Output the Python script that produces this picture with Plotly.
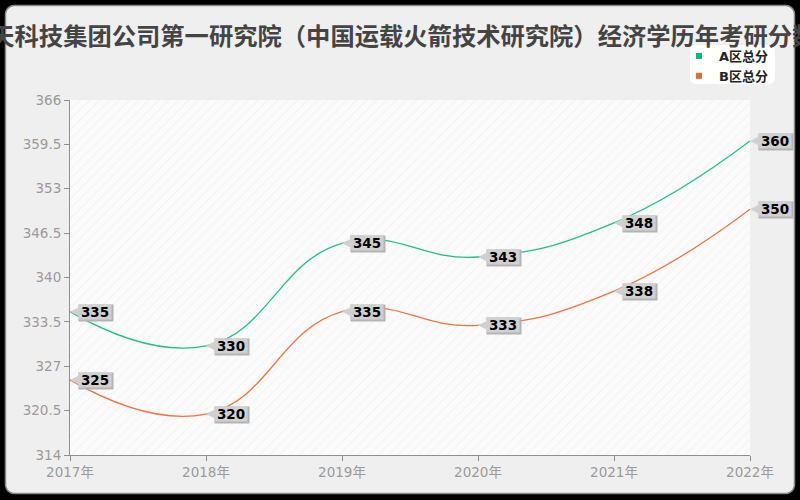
import math
import plotly.graph_objects as go

# ---- data ----
years = [2017, 2018, 2019, 2020, 2021, 2022]
year_labels = ["2017年", "2018年", "2019年", "2020年", "2021年", "2022年"]
series_a = [335, 330, 345, 343, 348, 360]
series_b = [325, 320, 335, 333, 338, 350]
name_a = "A区总分"
name_b = "B区总分"
y_ticks = [314, 320.5, 327, 333.5, 340, 346.5, 353, 359.5, 366]
title_text = "中国航天科技集团公司第一研究院（中国运载火箭技术研究院）经济学历年考研分数线"

# ---- geometry / styles ----
W, H = 800, 500
ML, MR, MT, MB = 70, 50, 100, 45
PW, PH = W - ML - MR, H - MT - MB
FONT = "DejaVu Sans, Noto Sans CJK SC, sans-serif"
COL_A = "#22bd8b"
COL_B = "#eb7446"
LEG_A = "#12b27e"
LEG_B = "#e6693a"
LABEL_BG = "#d0d0d0"
FRAME_INSET = 5.5


def px(x):
    return (x - ML) / PW


def py(y):
    return (H - MB - y) / PH


def rounded_pts(x0, y0, x1, y1, r, n=6):
    corners = [(x1 - r, y0 + r, -90), (x1 - r, y1 - r, 0), (x0 + r, y1 - r, 90), (x0 + r, y0 + r, 180)]
    pts = []
    for cx, cy, a0 in corners:
        for k in range(n + 1):
            a = math.radians(a0 + 90 * k / n)
            pts.append((cx + r * math.cos(a), cy + r * math.sin(a)))
    return pts


def path_of(pts):
    return "M" + " L".join(f"{px(x):.6f},{py(y):.6f}" for x, y in pts) + " Z"


fig = go.Figure()

fig.add_trace(go.Scatter(
    x=[years[0], years[-1], years[-1], years[0], years[0]],
    y=[y_ticks[0], y_ticks[0], y_ticks[-1], y_ticks[-1], y_ticks[0]],
    mode="none", fill="toself", fillcolor="#fbfbfb",
    fillpattern=dict(shape="/", fgcolor="#e8e8e8", bgcolor="#fbfbfb", size=7, solidity=0.15),
    hoverinfo="skip", showlegend=False,
))

for vals, col in [(series_a, COL_A), (series_b, COL_B)]:
    fig.add_trace(go.Scatter(
        x=years, y=vals, mode="lines",
        line=dict(color=col, width=1.3, shape="spline", smoothing=1.3),
        showlegend=False, hoverinfo="skip",
    ))

for nm, col in [(name_a, LEG_A), (name_b, LEG_B)]:
    fig.add_trace(go.Scatter(
        x=[None], y=[None], mode="markers", name=nm,
        marker=dict(symbol="square", size=6, color=col),
    ))

shapes = []
shapes.append(dict(type="path", xref="paper", yref="paper",
                   path=path_of(rounded_pts(690, 45, 775, 84, 6)),
                   fillcolor="#ffffff", line=dict(width=0), layer="below"))
outer = [(-2, -2), (W + 2, -2), (W + 2, H + 2), (-2, H + 2)]
frame_path = path_of(outer) + " " + path_of(
    rounded_pts(FRAME_INSET, FRAME_INSET, W - FRAME_INSET, H - 6.5, 9))
shapes.append(dict(type="path", xref="paper", yref="paper", path=frame_path,
                   fillcolor="#000000", fillrule="evenodd",
                   line=dict(color="#8a8a8a", width=1.5), layer="above"))

annotations = []
for vals in (series_a, series_b):
    for x, v in zip(years, vals):
        annotations.append(dict(x=x, y=v, xref="x", yref="y", text="",
                                showarrow=False, xshift=25.5, yshift=-1,
                                width=32, height=14, bgcolor="#b4b4b4"))
        annotations.append(dict(x=x, y=v, xref="x", yref="y", text=str(v),
                                showarrow=True, ax=24.5, ay=0, axref="pixel", ayref="pixel",
                                arrowhead=2, arrowsize=2.3, arrowwidth=1,
                                arrowcolor=LABEL_BG, standoff=0, startstandoff=0,
                                width=32, height=14, bgcolor=LABEL_BG, borderpad=0,
                                font=dict(family=FONT, size=13.5, color="#000000",
                                          weight="bold")))

fig.update_layout(
    width=W, height=H,
    margin=dict(l=ML, r=MR, t=MT, b=MB),
    paper_bgcolor="#efefef",
    plot_bgcolor="rgba(0,0,0,0)",
    font=dict(family=FONT),
    title=dict(text=title_text, x=379 / W, xref="container", xanchor="center",
               y=1 - 36 / H, yref="container", yanchor="middle",
               font=dict(family="Noto Sans CJK SC, DejaVu Sans", size=24.3, color="#444444",
                         weight="bold")),
    xaxis=dict(range=[years[0], years[-1]], tickvals=years, ticktext=year_labels,
               showgrid=True, gridcolor="#dedede", griddash="dash", gridwidth=1,
               showline=True, linecolor="#8f8f8f", linewidth=1,
               ticks="outside", ticklen=5, tickcolor="#8f8f8f",
               tickfont=dict(family=FONT, size=13.5, color="#9a9a9a"),
               zeroline=False, fixedrange=True),
    yaxis=dict(range=[y_ticks[0], y_ticks[-1]], tickvals=y_ticks,
               ticktext=[f"{t:g}" for t in y_ticks],
               showgrid=True, gridcolor="#dedede", griddash="dash", gridwidth=1,
               showline=True, linecolor="#8f8f8f", linewidth=1,
               ticks="outside", ticklen=5, tickcolor="#8f8f8f",
               tickfont=dict(family=FONT, size=13.5, color="#9a9a9a"),
               zeroline=False, fixedrange=True),
    legend=dict(x=px(679), y=py(41), xanchor="left", yanchor="top",
                bgcolor="rgba(0,0,0,0)", borderwidth=0,
                font=dict(family=FONT, size=13, color="#222222", weight="bold"),
                itemwidth=30, tracegroupgap=0),
    shapes=shapes,
    annotations=annotations,
)

fig.write_html("out.html")
